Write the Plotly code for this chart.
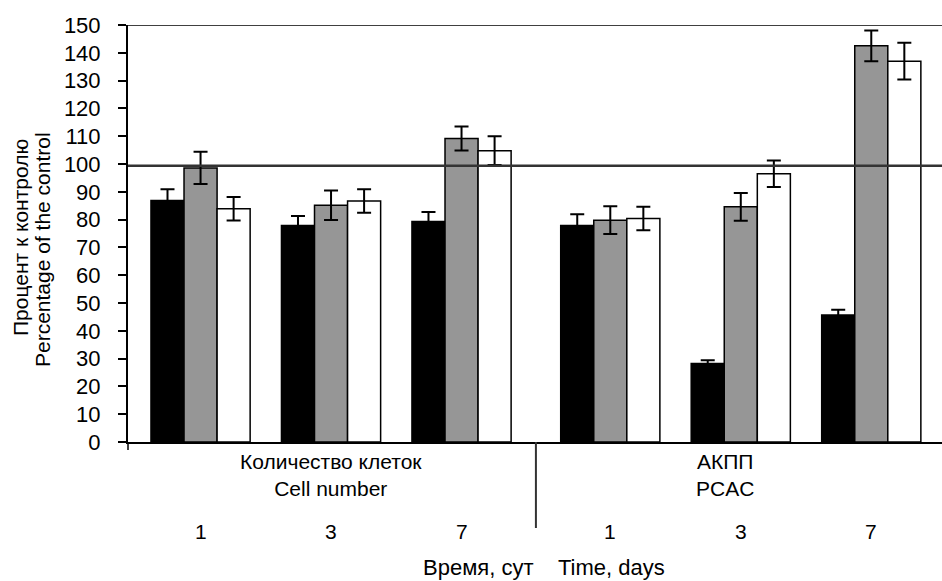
import plotly.graph_objects as go

# ---- data ----
group_labels = ["Количество клеток<br>Cell number", "АКПП<br>PCAC"]
day_labels = ["1", "3", "7", "1", "3", "7"]
# slot index of each of the six bar groups (second block set slightly apart)
group_slots = [0, 1, 2, 3.14, 4.14, 5.14]

black_vals = [86.9, 77.9, 79.3, 77.9, 28.2, 45.7]
black_err = [4.0, 3.4, 3.4, 4.0, 1.2, 1.9]
gray_vals = [98.6, 85.2, 109.2, 79.8, 84.6, 142.5]
gray_err = [5.8, 5.3, 4.3, 5.0, 5.0, 5.5]
white_vals = [83.9, 86.7, 104.8, 80.4, 96.5, 137.0]
white_err = [4.2, 4.2, 5.2, 4.2, 4.8, 6.6]
control_level = 99.4
y_ticks = list(range(0, 151, 10))
x_title = "Время, сут\u00a0\u00a0\u00a0\u00a0Time, days"
y_title_ru = "Процент к контролю"
y_title_en = "Percentage of the control"

FONT = "Liberation Sans, Arial, sans-serif"
FS = 21

fig = go.Figure()
for vals, errs, color in [(black_vals, black_err, "#000000"),
                          (gray_vals, gray_err, "#969696"),
                          (white_vals, white_err, "#ffffff")]:
    fig.add_trace(go.Bar(
        x=group_slots, y=vals,
        marker=dict(color=color, line=dict(color="#000000", width=1.5)),
        error_y=dict(type="data", array=errs, visible=True,
                     color="#000000", thickness=2, width=7),
        showlegend=False,
    ))

x_min, x_max = -0.556, 5.682
fig.update_layout(
    width=942, height=581,
    margin=dict(l=128, r=0, t=25, b=139),
    paper_bgcolor="white", plot_bgcolor="white",
    barmode="group", bargap=0.24, bargroupgap=0,
    font=dict(family=FONT, size=FS, color="#000000"),
    xaxis=dict(range=[x_min, x_max], showgrid=False, zeroline=False,
               showticklabels=False, ticks="", showline=True,
               linecolor="#000000", linewidth=2),
    yaxis=dict(range=[0, 150], tickvals=y_ticks, showgrid=False,
               zeroline=False, showline=True, linecolor="#000000",
               linewidth=2, ticks="outside", ticklen=8, tickwidth=1.5,
               tickcolor="#000000", ticklabelstandoff=13,
               tickfont=dict(family=FONT, size=22)),
)

shapes = [
    # reference (control) line
    dict(type="line", xref="paper", yref="y", x0=0, x1=1,
         y0=control_level, y1=control_level,
         line=dict(color="#333333", width=2.5)),
    # top border
    dict(type="line", xref="paper", yref="y", x0=0, x1=1, y0=150, y1=150,
         line=dict(color="#000000", width=1.5)),
    # left tick below x axis
    dict(type="line", xref="paper", yref="paper", x0=0, x1=0,
         y0=0, y1=-8 / 417, line=dict(color="#000000", width=1.5)),
    # divider between the two blocks
    dict(type="line", xref="x", yref="paper",
         x0=(group_slots[2] + group_slots[3]) / 2,
         x1=(group_slots[2] + group_slots[3]) / 2,
         y0=0, y1=-86 / 417, line=dict(color="#333333", width=2)),
]
fig.update_layout(shapes=shapes)

ann = []
block_centers = [group_slots[1], 4.02]
for lbl, xc in zip(group_labels, block_centers):
    ann.append(dict(x=xc, xref="x", y=0, yref="paper", yshift=-33,
                    text=lbl, showarrow=False, yanchor="middle",
                    font=dict(family=FONT, size=FS)))
for lbl, xc in zip(day_labels, group_slots):
    ann.append(dict(x=xc, xref="x", y=0, yref="paper", yshift=-89,
                    text=lbl, showarrow=False, yanchor="middle",
                    font=dict(family=FONT, size=FS)))
ann.append(dict(x=(544 - 128) / 814, xref="paper", y=0, yref="paper",
                yshift=-125, text=x_title,
                showarrow=False, yanchor="middle",
                font=dict(family=FONT, size=22)))
ann.append(dict(x=-107 / 814, xref="paper", y=(442 - 238) / 417,
                yref="paper",
                text=y_title_ru, textangle=-90, showarrow=False,
                xanchor="center", yanchor="middle",
                font=dict(family=FONT, size=21)))
ann.append(dict(x=-86 / 814, xref="paper", y=(442 - 250) / 417,
                yref="paper",
                text=y_title_en, textangle=-90,
                showarrow=False, xanchor="center", yanchor="middle",
                font=dict(family=FONT, size=21)))
fig.update_layout(annotations=ann)

fig.write_html(
    "out.html",
    config={"displayModeBar": False},
    post_script="document.body.style.margin='0';document.body.style.overflow='hidden';",
)
